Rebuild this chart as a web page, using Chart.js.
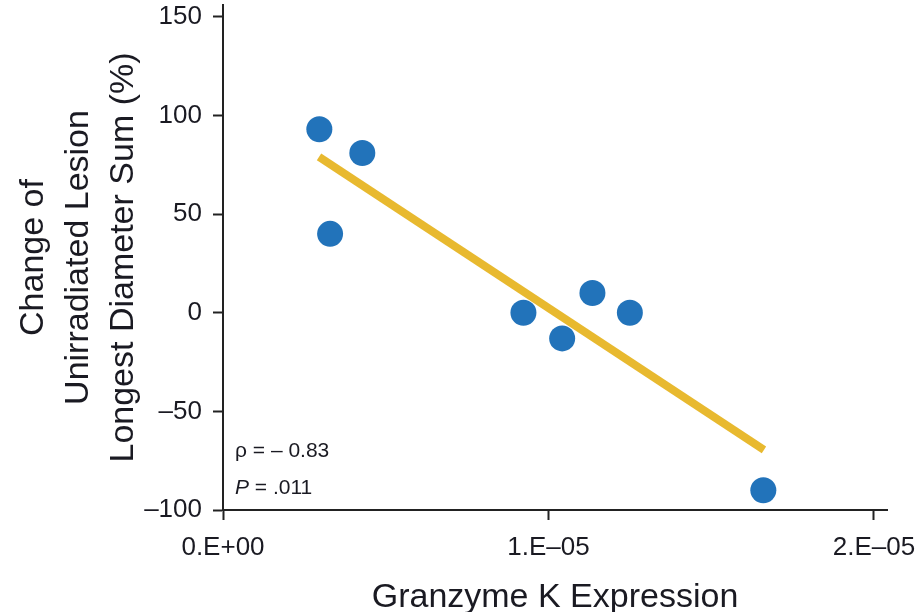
<!DOCTYPE html>
<html><head><meta charset="utf-8">
<script src="https://cdn.jsdelivr.net/npm/chart.js@4/dist/chart.umd.min.js"></script>
<style>html,body{margin:0;padding:0;background:#fff}canvas{display:block}</style>
</head><body>
<canvas id="c" width="917" height="612"></canvas>
<script>
const granzymeK = [2.96e-6, 4.28e-6, 3.29e-6, 9.23e-6, 1.042e-5, 1.135e-5, 1.25e-5, 1.66e-5];
const lesionChange = [93, 81, 40, 0, -13, 10, 0, -90];
const fitX = [2.95e-6, 1.662e-5];
const fitY = [79, -69.5];
const xTickValues = [0, 1e-5, 2e-5];
const xTickLabels = ['0.E+00', '1.E\u201305', '2.E\u201305'];
const yTickValues = [-100, -50, 0, 50, 100, 150];
const yTickLabels = ['\u2013100', '\u201350', '0', '50', '100', '150'];
const yTitle = ['Change of', 'Unirradiated Lesion', 'Longest Diameter Sum (%)'];
const xTitle = 'Granzyme K Expression';
const rhoText = '\u03C1 = \u2013 0.83';
const pLabel = 'P';
const pValue = ' = .011';

const FAM = '"Liberation Sans", Arial, Helvetica, sans-serif';
const INK = '#1a1a22';

const statsPlugin = {
  id: 'stats',
  afterDraw(chart) {
    const ctx = chart.ctx;
    const left = chart.chartArea.left + 12;
    const bottom = chart.chartArea.bottom;
    ctx.save();
    ctx.fillStyle = INK;
    ctx.textBaseline = 'alphabetic';
    ctx.textAlign = 'left';
    ctx.font = '21px ' + FAM;
    ctx.fillText(rhoText, left, bottom - 53);
    ctx.font = 'italic 21px ' + FAM;
    ctx.fillText(pLabel, left, bottom - 16);
    const w = ctx.measureText(pLabel).width;
    ctx.font = '21px ' + FAM;
    ctx.fillText(pValue, left + w, bottom - 16);
    ctx.restore();
  }
};

new Chart(document.getElementById('c'), {
  type: 'scatter',
  data: {
    datasets: [
      {
        type: 'line',
        data: fitX.map((x, i) => ({ x: x, y: fitY[i] })),
        borderColor: '#e8b92f',
        borderWidth: 8,
        pointRadius: 0,
        pointHoverRadius: 0,
        fill: false,
        borderCapStyle: 'butt'
      },
      {
        type: 'scatter',
        data: granzymeK.map((x, i) => ({ x: x, y: lesionChange[i] })),
        backgroundColor: '#2273ba',
        borderWidth: 0,
        pointRadius: 13,
        pointHoverRadius: 13
      }
    ]
  },
  options: {
    responsive: false,
    animation: false,
    devicePixelRatio: 1,
    layout: { autoPadding: false, padding: { top: 5, right: 30, left: 0, bottom: 0 } },
    plugins: { legend: { display: false }, tooltip: { enabled: false } },
    scales: {
      x: {
        type: 'linear',
        min: 0,
        max: 2.04e-5,
        afterBuildTicks: s => { s.ticks = xTickValues.map(v => ({ value: v })); },
        afterFit: s => { s.height = 102; s.paddingLeft = 0; s.paddingRight = 0; },
        ticks: {
          callback: (v, i) => xTickLabels[i],
          color: INK,
          font: { family: FAM, size: 26 },
          padding: 12,
          maxRotation: 0,
          autoSkip: false
        },
        grid: { drawOnChartArea: false, drawTicks: true, tickLength: 10, tickWidth: 2, tickColor: '#222' },
        border: { display: true, color: '#222', width: 2 },
        title: {
          display: true,
          text: xTitle,
          color: INK,
          font: { family: FAM, size: 34, lineHeight: 1 },
          padding: { top: 0, bottom: -3 }
        }
      },
      y: {
        type: 'linear',
        min: -100,
        max: 156,
        afterBuildTicks: s => { s.ticks = yTickValues.map(v => ({ value: v })); },
        afterFit: s => { s.width = 223; s.paddingTop = 0; s.paddingBottom = 0; },
        ticks: {
          callback: (v, i) => yTickLabels[i],
          color: INK,
          font: { family: FAM, size: 26 },
          padding: 11,
          autoSkip: false
        },
        grid: { drawOnChartArea: false, drawTicks: true, tickLength: 10, tickWidth: 2, tickColor: '#222' },
        border: { display: true, color: '#222', width: 2 },
        title: {
          display: true,
          text: yTitle,
          color: INK,
          font: { family: FAM, size: 34, lineHeight: 1.32 },
          padding: { top: 11, bottom: 0 }
        }
      }
    }
  },
  plugins: [statsPlugin]
});
</script>
</body></html>
